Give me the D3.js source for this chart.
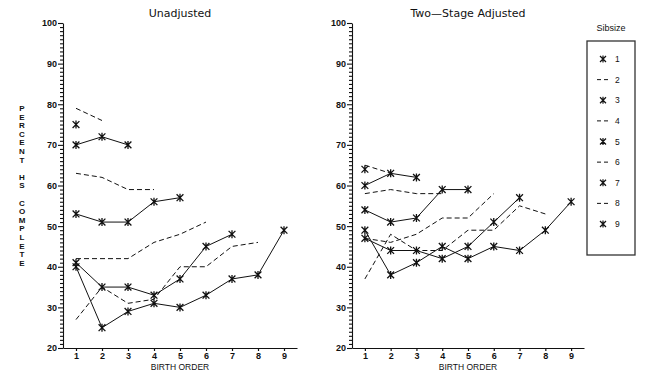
<!DOCTYPE html>
<html>
<head>
<meta charset="utf-8">
<script src="https://cdn.jsdelivr.net/npm/d3@7"></script>
<style>
  body { margin: 0; background: #fff; }
  svg { display: block; }
  text { fill: #111; }
</style>
</head>
<body>
<svg id="chart" width="657" height="377"></svg>
<script>
// birth order on x, one series per sibship size
const birthOrder = [1, 2, 3, 4, 5, 6, 7, 8, 9];
const sibsizes = [1, 2, 3, 4, 5, 6, 7, 8, 9];
const yTicks = [20, 30, 40, 50, 60, 70, 80, 90, 100];

// percent HS complete, indexed by sibsize, values by birth order 1..n
const unadjusted = [
  [75],
  [79, 76],
  [70, 72, 70],
  [63, 62, 59, 59],
  [53, 51, 51, 56, 57],
  [42, 42, 42, 46, 48, 51],
  [41, 35, 35, 33, 37, 45, 48],
  [27, 35, 31, 32, 40, 40, 45, 46],
  [40, 25, 29, 31, 30, 33, 37, 38, 49]
];

const twoStage = [
  [64],
  [65, 63],
  [60, 63, 62],
  [58, 59, 58, 58],
  [54, 51, 52, 59, 59],
  [47, 46, 48, 52, 52, 58],
  [47, 44, 44, 42, 45, 51, 57],
  [37, 48, 44, 44, 49, 49, 55, 53],
  [49, 38, 41, 45, 42, 45, 44, 49, 56]
];

const panelTitles = ["Unadjusted", "Two\u2014Stage Adjusted"];
const yLabelWords = ["PERCENT", "HS", "COMPLETE"];

const svg = d3.select("#chart");
const tickFont = "'Liberation Sans', Arial, sans-serif";

// asterisk marker: X plus a vertical bar
const starPath = "M0,-4L0,4M-3.4,-3.4L3.4,3.4M-3.4,3.4L3.4,-3.4";
const smallStar = "M0,-3.4L0,3.4M-3,-3L3,3M-3,3L3,-3";

class PanelView {
  constructor(svg, data, title, left, right) {
    this.svg = svg;
    this.data = data;
    this.title = title;
    this.x = d3.scaleLinear().domain([0.5, 9.5]).range([left, right]);
    this.y = d3.scaleLinear().domain([20, 100]).range([348, 23]);
    this.redraw();
  }

  redraw() {
    const _this = this;
    const g = this.svg.append("g");

    // y axis: ruler of minor ticks, labels every 10
    const yAxis = g.append("g")
      .attr("transform", "translate(" + this.x.range()[0] + ",0)")
      .call(d3.axisLeft(this.y)
        .tickValues(d3.range(20, 101))
        .tickSize(3)
        .tickSizeOuter(0)
        .tickPadding(3)
        .tickFormat(d => yTicks.includes(d) ? d : ""));
    yAxis.selectAll(".tick line")
      .attr("x2", d => yTicks.includes(d) ? -5 : -3);
    yAxis.selectAll("line, path").attr("stroke", "#111").attr("stroke-width", 1.1);
    yAxis.selectAll("text")
      .attr("font-family", tickFont).attr("font-size", 9).attr("font-weight", "bold");

    const xAxis = g.append("g")
      .attr("transform", "translate(0," + this.y.range()[0] + ")")
      .call(d3.axisBottom(this.x)
        .tickValues(birthOrder)
        .tickSize(3)
        .tickSizeOuter(0)
        .tickPadding(2));
    xAxis.selectAll("line, path").attr("stroke", "#111").attr("stroke-width", 1.2);
    xAxis.selectAll("text")
      .attr("font-family", tickFont).attr("font-size", 9).attr("font-weight", "bold");

    const cx = (this.x.range()[0] + this.x.range()[1]) / 2;
    g.append("text")
      .attr("x", cx).attr("y", 370)
      .attr("text-anchor", "middle")
      .attr("font-family", tickFont).attr("font-size", 8.5)
      .text("BIRTH ORDER");

    g.append("text")
      .attr("x", cx).attr("y", 17)
      .attr("text-anchor", "middle")
      .attr("font-family", "'DejaVu Sans', sans-serif").attr("font-size", 11)
      .text(this.title);

    const line = d3.line()
      .x((d, i) => _this.x(birthOrder[i]))
      .y(d => _this.y(d));

    // odd sibsizes solid with stars, even ones dashed
    const series = g.selectAll(".series")
      .data(this.data)
      .join("g")
        .attr("class", "series");

    series.append("path")
      .attr("d", d => line(d))
      .attr("fill", "none")
      .attr("stroke", "#111")
      .attr("stroke-width", 1)
      .attr("stroke-dasharray", (d, i) => sibsizes[i] % 2 === 0 ? "5,3" : null);

    series.filter((d, i) => sibsizes[i] % 2 === 1)
      .selectAll(".star")
      .data(d => d)
      .join("path")
        .attr("class", "star")
        .attr("d", starPath)
        .attr("transform", (d, i) => "translate(" + _this.x(birthOrder[i]) + "," + _this.y(d) + ")")
        .attr("stroke", "#111")
        .attr("stroke-width", 1.3)
        .attr("fill", "none");
  }
}

new PanelView(svg, unadjusted, panelTitles[0], 63, 297);
new PanelView(svg, twoStage, panelTitles[1], 352, 584);

// vertical stacked y label
let letterY = 111;
yLabelWords.forEach(function (word) {
  word.split("").forEach(function (ch) {
    svg.append("text")
      .attr("x", 22).attr("y", letterY)
      .attr("text-anchor", "middle")
      .attr("font-family", tickFont).attr("font-size", 8).attr("font-weight", "bold")
      .text(ch);
    letterY += 8.6;
  });
  letterY += 8.6;
});

// legend
const legendY = d3.scalePoint().domain(sibsizes).range([59, 224]);
svg.append("text")
  .attr("x", 611).attr("y", 31)
  .attr("text-anchor", "middle")
  .attr("font-family", tickFont).attr("font-size", 9)
  .text("Sibsize");

svg.append("rect")
  .attr("x", 587).attr("y", 41)
  .attr("width", 48).attr("height", 214)
  .attr("fill", "none")
  .attr("stroke", "#333")
  .attr("stroke-width", 1.3);

const items = svg.selectAll(".legend-item")
  .data(sibsizes)
  .join("g")
    .attr("class", "legend-item")
    .attr("transform", d => "translate(0," + legendY(d) + ")");

items.filter(d => d % 2 === 1).append("path")
  .attr("d", smallStar)
  .attr("transform", "translate(603,0)")
  .attr("stroke", "#111").attr("stroke-width", 1.2).attr("fill", "none");

items.filter(d => d % 2 === 0).append("line")
  .attr("x1", 597).attr("x2", 609)
  .attr("stroke", "#111").attr("stroke-width", 1)
  .attr("stroke-dasharray", "4,3");

items.append("text")
  .attr("x", 615).attr("y", 3)
  .attr("font-family", tickFont).attr("font-size", 8.5)
  .text(d => d);
</script>
</body>
</html>
